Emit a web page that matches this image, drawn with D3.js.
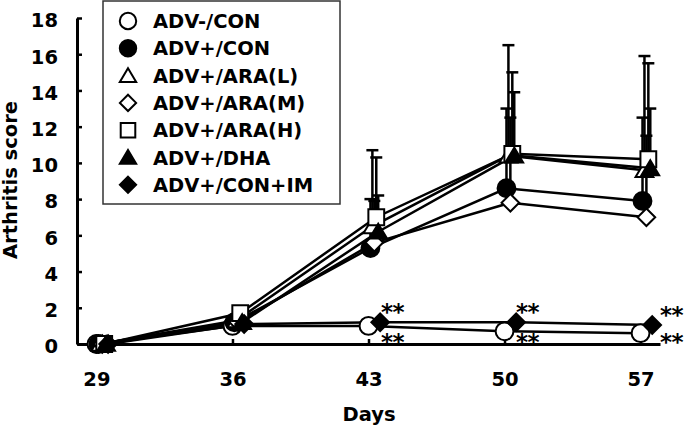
<!DOCTYPE html>
<html>
<head>
<meta charset="utf-8">
<script src="https://cdn.jsdelivr.net/npm/d3@7"></script>
<style>
  html, body { margin: 0; padding: 0; background: #fff; }
  svg { display: block; }
  text { font-family: "DejaVu Sans", sans-serif; font-weight: bold; fill: #000; }
</style>
</head>
<body>
<svg id="chart" width="685" height="430"></svg>
<script>
// ---- Data ----
const days = [29, 36, 43, 50, 57];
const seriesNames = ["ADV-/CON", "ADV+/CON", "ADV+/ARA(L)", "ADV+/ARA(M)", "ADV+/ARA(H)", "ADV+/DHA", "ADV+/CON+IM"];
const advNegCon = [0, 1.0, 1.0, 0.7, 0.6];
const advPosCon = [0, 1.2, 5.3, 8.6, 7.9];
const araL      = [0, 1.3, 6.5, 10.4, 9.6];
const araM      = [0, 1.2, 5.6, 7.8, 7.0];
const araH      = [0, 1.7, 7.0, 10.5, 10.2];
const dha       = [0, 1.2, 6.2, 10.4, 9.7];
const conIm     = [0, 1.1, 1.2, 1.2, 1.05];
// upper end of error bars (mean + SD); null = not drawn
const advNegConUpper = [null, null, null, null, null];
const advPosConUpper = [null, null, 8.0, 13.0, 12.5];
const araLUpper      = [null, null, 10.7, 16.5, 15.9];
const araMUpper      = [null, null, 7.9, 12.5, 11.5];
const araHUpper      = [null, null, 10.3, 15.0, 15.5];
const dhaUpper       = [null, null, 8.2, 13.9, 13.0];
const conImUpper     = [null, null, null, null, null];
const sigDays = [43, 50, 57];
const yTicks = [0, 2, 4, 6, 8, 10, 12, 14, 16, 18];
const xLabel = "Days";
const yLabel = "Arthritis score";

// ---- Build ----
const seriesValues = [advNegCon, advPosCon, araL, araM, araH, dha, conIm];
const seriesUpper = [advNegConUpper, advPosConUpper, araLUpper, araMUpper, araHUpper, dhaUpper, conImUpper];
const markerShape = ["circle", "circle", "triangle", "diamond", "square", "triangle", "diamond"];
const markerFilled = [false, true, false, false, false, true, true];
const series = seriesNames.map((name, i) => ({
  name, i,
  points: days.map((d, j) => ({ day: d, v: seriesValues[i][j], up: seriesUpper[i][j] })),
  shape: markerShape[i], filled: markerFilled[i]
}));

const svg = d3.select("#chart");
const x = d3.scaleLinear().domain([28, 58]).range([77, 660]);
const y = d3.scaleLinear().domain([0, 18]).range([344, 18]);
const dayShift = i => i * 0.1; // small horizontal stagger between groups

// custom marker shapes
const shapes = {
  circle: { draw(ctx, s) { const r = Math.sqrt(s / Math.PI); ctx.moveTo(r, 0); ctx.arc(0, 0, r, 0, 2 * Math.PI); } },
  square: { draw(ctx, s) { const h = Math.sqrt(s) / 2; ctx.rect(-h, -h, 2 * h, 2 * h); } },
  diamond: { draw(ctx, s) { const h = Math.sqrt(s) / 2; ctx.moveTo(0, -h); ctx.lineTo(h, 0); ctx.lineTo(0, h); ctx.lineTo(-h, 0); ctx.closePath(); } },
  triangle: { draw(ctx, s) { const h = Math.sqrt(s) / 2; ctx.moveTo(0, -h * 1.0); ctx.lineTo(h * 1.1, h * 0.85); ctx.lineTo(-h * 1.1, h * 0.85); ctx.closePath(); } }
};
const markerSize = { circle: 250, square: 250, diamond: 310, triangle: 260 };

// axes
const xAxis = d3.axisBottom(x).tickValues(days).tickSizeInner(-5).tickSizeOuter(0).tickPadding(28);
const yAxis = d3.axisLeft(y).tickValues(yTicks).tickSizeInner(-5).tickSizeOuter(0).tickPadding(19);

const gx = svg.append("g").attr("transform", `translate(0,${y(0)})`).call(xAxis);
const gy = svg.append("g").attr("transform", `translate(${x(28)},0)`).call(yAxis);
[gx, gy].forEach(g => {
  g.select(".domain").attr("stroke", "#000").attr("stroke-width", 3);
  g.selectAll(".tick line").attr("stroke", "#000").attr("stroke-width", 2.5);
  g.selectAll(".tick text").attr("font-family", "DejaVu Sans, sans-serif").attr("font-weight", "bold").attr("font-size", 19.5).attr("fill", "#000");
});
gy.selectAll(".tick text").attr("dy", "0.45em");

// axis titles
svg.append("text").attr("x", 369).attr("y", 421).attr("text-anchor", "middle").attr("font-size", 19.5).text(xLabel);
svg.append("text").attr("transform", "translate(17,180) rotate(-90)").attr("text-anchor", "middle").attr("font-size", 19.5).text(yLabel);

// lines
const line = d3.line().x(d => d.px).y(d => y(d.v));
series.forEach(s => s.points.forEach(p => p.px = x(p.day + dayShift(s.i))));
svg.append("g").selectAll("path").data(series).join("path")
  .attr("d", s => line(s.points))
  .attr("fill", "none").attr("stroke", "#000").attr("stroke-width", 2.5);

// error bars
const eg = svg.append("g");
series.forEach(s => {
  s.points.filter(p => p.up != null).forEach(p => {
    eg.append("line").attr("x1", p.px).attr("x2", p.px).attr("y1", y(p.v)).attr("y2", y(p.up))
      .attr("stroke", "#000").attr("stroke-width", 2.5);
    eg.append("line").attr("x1", p.px - 6).attr("x2", p.px + 6).attr("y1", y(p.up)).attr("y2", y(p.up))
      .attr("stroke", "#000").attr("stroke-width", 2.5);
  });
});

// markers
const mg = svg.append("g");
series.forEach(s => {
  const sym = d3.symbol().type(shapes[s.shape]).size(markerSize[s.shape]);
  mg.selectAll(null).data(s.points).join("path")
    .attr("transform", p => `translate(${p.px},${y(p.v)})`)
    .attr("d", sym)
    .attr("fill", s.filled ? "#000" : "#fff")
    .attr("stroke", "#000").attr("stroke-width", 2);
});

// significance stars (glyph centre sits ~0.57em above the baseline)
const starFont = 23;
const starDx = [24, 23, 31];
const imSeries = series[6];
sigDays.forEach((d, k) => {
  const p = imSeries.points.find(q => q.day === d);
  const sx = x(d) + starDx[k];
  const upC = y(p.v) - 15, loC = y(0) - 7;
  svg.append("text").attr("x", sx).attr("y", upC + 0.57 * starFont).attr("text-anchor", "middle").attr("font-size", starFont).attr("letter-spacing", -0.5).text("**");
  svg.append("text").attr("x", sx).attr("y", loC + 0.57 * starFont).attr("text-anchor", "middle").attr("font-size", starFont).attr("letter-spacing", -0.5).text("**");
});

// legend
const lg = svg.append("g");
lg.append("rect").attr("x", 103).attr("y", 1).attr("width", 237).attr("height", 203)
  .attr("fill", "#fff").attr("stroke", "#333").attr("stroke-width", 1.5);
series.forEach((s, i) => {
  const cy = 21 + i * 27.3;
  const sym = d3.symbol().type(shapes[s.shape]).size(markerSize[s.shape] * 0.85);
  lg.append("path").attr("transform", `translate(128,${cy})`).attr("d", sym)
    .attr("fill", s.filled ? "#000" : "#fff").attr("stroke", "#000").attr("stroke-width", 2);
  lg.append("text").attr("x", 153).attr("y", cy + 7).attr("font-size", 19.5).text(s.name);
});
</script>
</body>
</html>
